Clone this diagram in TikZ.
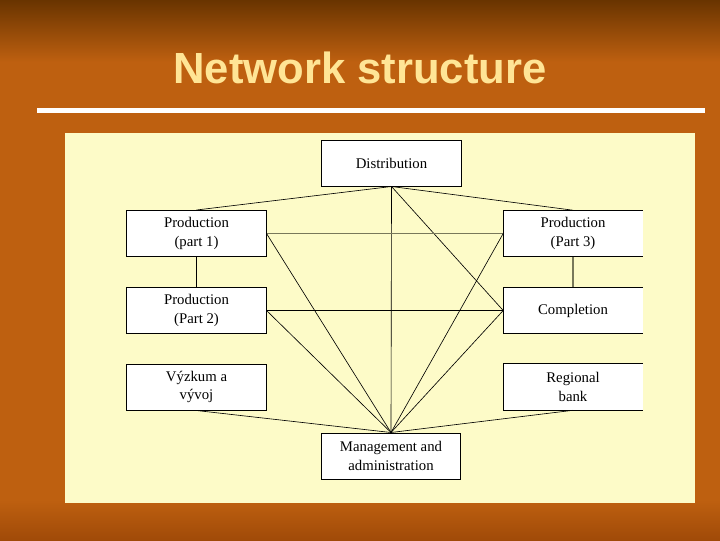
\documentclass[tikz,border=0pt]{standalone}
\usepackage{fontspec}
\setmainfont{Liberation Serif}
\newfontfamily\titlefont{Liberation Sans}
\usepackage{xcolor}
\usetikzlibrary{positioning}

\definecolor{slidebg}{RGB}{190,96,16}
\definecolor{slidetop}{RGB}{105,52,0}
\definecolor{slidelow}{RGB}{160,74,8}
\definecolor{panel}{RGB}{253,251,200}
\definecolor{titletext}{RGB}{255,229,150}
\definecolor{olive}{RGB}{120,120,90}

\tikzset{
    unit/.style={minimum width=3.475cm, minimum height=1.15cm, inner sep=0pt,
        align=center, fill=white, font=\fontsize{10.5}{13}\selectfont},
    framed/.style={unit, draw=black, line width=0.7pt},
    link/.style={draw=black, line width=0.45pt}
}

\begin{document}
\begin{tikzpicture}[x=0.025cm, y=-0.025cm]
    \useasboundingbox (0,0) rectangle (720,540);

    % Slide background
    \fill[slidebg] (0,0) rectangle (720,540);
    \shade[top color=slidetop, bottom color=slidebg] (0,0) rectangle (720,62);
    \shade[top color=slidebg, bottom color=slidelow] (0,500) rectangle (720,540);
    \node[font=\titlefont\bfseries\fontsize{31}{36}\selectfont, text=titletext] (title) at (360,68) {Network structure};
    \fill[white] (37,108) rectangle (705,113);
    \fill[panel] (65,133) rectangle (695,503);

    % Boxes
    \node[framed] (dist) at (391.5,163) {Distribution};
    \node[framed] (prod1) at (196.5,233.5) {Production\\(part 1)};
    \node[framed] (prod2) at (196.5,310.5) {Production\\(Part 2)};
    \node[framed] (vyzkum) at (196.5,387) {Výzkum a\\vývoj};
    \node[unit] (prod3) at (573,233.5) {Production\\(Part 3)};
    \node[unit] (compl) at (573,310.5) {Completion};
    \node[unit] (bank) at (573,387) {Regional\\bank};
    \node[framed] (mgmt) at (391,456) {Management and\\administration};

    % Right boxes are cut off at the panel edge
    \foreach \n in {prod3, compl, bank}
        \draw[line width=0.7pt] (\n.north east) -- (\n.north west) -- (\n.south west) -- (\n.south east);

    % Links
    \draw[link] (dist.south) -- (prod1.north);
    \draw[link] (dist.south) -- (prod3.north);
    \draw[link] (dist.south) -- (mgmt.north);
    \draw[link] (dist.south) -- (compl.west);
    \draw[link, draw=olive] (prod1.east) -- (prod3.west);
    \draw[link] (prod1.east) -- (mgmt.north);
    \draw[link] (prod1.south) -- (prod2.north);
    \draw[link] (prod2.east) -- (compl.west);
    \draw[link] (prod2.east) -- (mgmt.north);
    \draw[link] (prod3.west) -- (mgmt.north);
    \draw[link, draw=olive, line width=1.2pt] (prod3.south) -- (compl.north);
    \draw[link] (compl.west) -- (mgmt.north);
    \draw[link] (vyzkum.south) -- (mgmt.north);
    \draw[link] (bank.south) -- (mgmt.north);
\end{tikzpicture}
\end{document}
